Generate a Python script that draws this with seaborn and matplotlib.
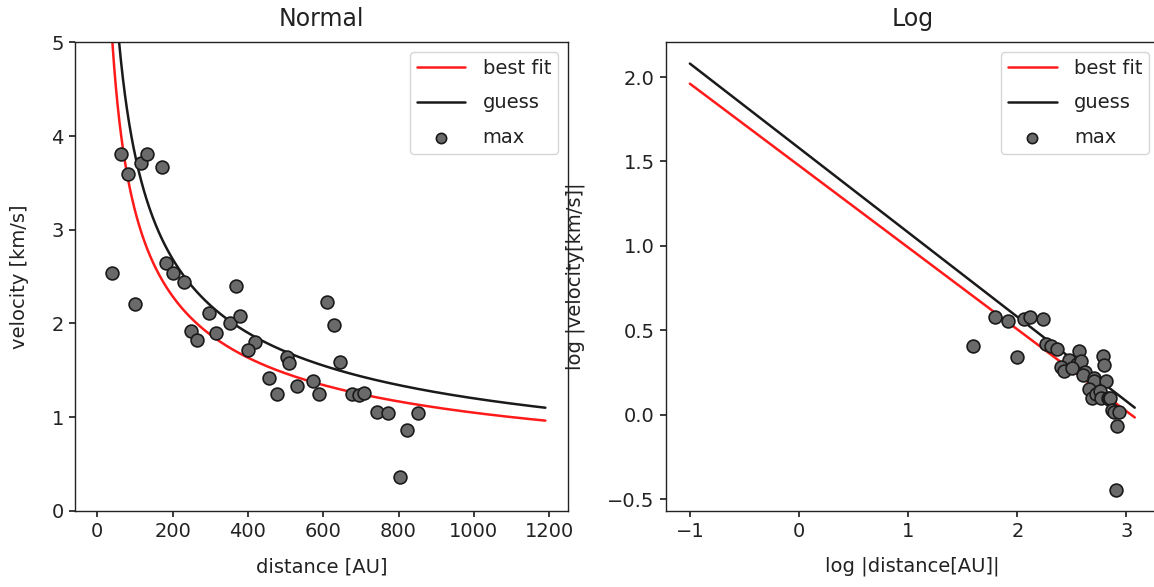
import numpy as np
import pandas as pd
import matplotlib
matplotlib.use("Agg")
import matplotlib.pyplot as plt
import seaborn as sns

# Measured maxima: distance [AU] and velocity [km/s]
distance = [63, 82, 116, 132, 172, 39, 100, 183, 202, 231,
            297, 369, 351, 380, 250, 265, 316, 420, 401, 609,
            628, 505, 508, 644, 457, 478, 529, 572, 590, 676,
            694, 708, 742, 772, 851, 822, 805]
velocity = [3.81, 3.59, 3.71, 3.81, 3.67, 2.54, 2.21, 2.64, 2.54, 2.44,
            2.11, 2.40, 2.00, 2.08, 1.92, 1.82, 1.90, 1.80, 1.72, 2.23,
            1.98, 1.64, 1.58, 1.59, 1.42, 1.25, 1.33, 1.39, 1.25, 1.25,
            1.24, 1.26, 1.06, 1.04, 1.04, 0.86, 0.36]

# Power-law models v = A * r**k
fit_amp, fit_exp = 29.9, -0.485
guess_amp, guess_exp = 38.0, -0.5

r = np.linspace(0.1, 1190, 2000)
models = pd.DataFrame({
    "r": r,
    "fit": fit_amp * r ** fit_exp,
    "guess": guess_amp * r ** guess_exp,
})
models["log_r"] = np.log10(models["r"])
models["log_fit"] = np.log10(models["fit"])
models["log_guess"] = np.log10(models["guess"])

pts = pd.DataFrame({"d": distance, "v": velocity})
pts["log_d"] = np.log10(pts["d"])
pts["log_v"] = np.log10(pts["v"])

sns.set_theme(style="ticks", rc={
    "axes.edgecolor": "#222222",
    "axes.linewidth": 1.0,
    "xtick.color": "#222222",
    "ytick.color": "#222222",
    "text.color": "#222222",
    "axes.labelcolor": "#222222",
    "xtick.major.size": 4.5,
    "ytick.major.size": 4.5,
})
plt.rcParams["font.family"] = ["DejaVu Sans"]
FS = 14

fig = plt.figure(figsize=(11.54, 5.87), dpi=100)
ax1 = fig.add_axes([0.065, 0.1295, 0.427, 0.7985])
# the right panel runs past the figure edge, so its right spine is clipped
ax2 = fig.add_axes([0.577, 0.1295, 0.437, 0.7985])

marker_kw = dict(s=85, color="#6a6a6a", edgecolor="#1a1a1a", linewidth=1.2, zorder=3)
legend_kw = dict(loc="upper right", fontsize=FS, markerscale=0.8,
                 borderpad=0.35, labelspacing=0.8, handlelength=2.5,
                 handletextpad=0.9)

def draw(ax, xcol, fcol, gcol, px, py):
    sns.lineplot(data=models, x=xcol, y=fcol, ax=ax, color="#ff1a1a",
                 lw=1.8, label="best fit", sort=False)
    sns.lineplot(data=models, x=xcol, y=gcol, ax=ax, color="#1a1a1a",
                 lw=1.8, label="guess", sort=False)
    sns.scatterplot(data=pts, x=px, y=py, ax=ax, label="max", **marker_kw)
    ax.tick_params(labelsize=FS)

draw(ax1, "r", "fit", "guess", "d", "v")
ax1.set_ylim(0, 5)
ax1.set_title("Normal", fontsize=17, pad=12)
ax1.set_xlabel("distance [AU]", fontsize=FS, labelpad=12)
ax1.set_ylabel("velocity [km/s]", fontsize=FS, labelpad=16)
ax1.legend(**legend_kw)

draw(ax2, "log_r", "log_fit", "log_guess", "log_d", "log_v")
ax2.set_xlim(-1.22, 3.40)
ax2.set_title("Log", fontsize=17, pad=12, x=0.489)
ax2.set_xlabel("log |distance[AU]|", fontsize=FS)
ax2.xaxis.set_label_coords(0.489, -0.097)
ax2.set_ylabel("log |velocity[km/s]|", fontsize=FS, labelpad=16)
ax2.legend(bbox_to_anchor=(0.978, 1.0), **legend_kw)

fig.savefig("out.png", dpi=100)
